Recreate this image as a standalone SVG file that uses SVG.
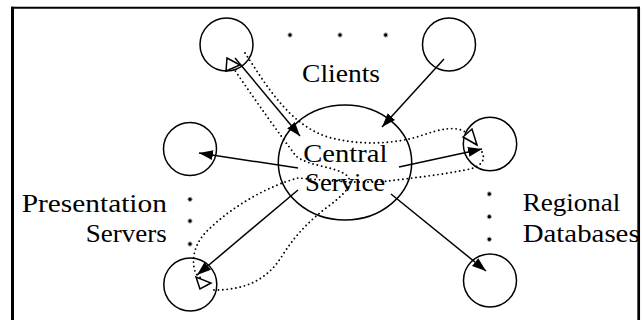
<svg xmlns="http://www.w3.org/2000/svg" width="641" height="320" viewBox="0 0 641 320">
<style>
.node{fill:none;stroke:#000;stroke-width:1.5}
.arrow{fill:none;stroke:#000;stroke-width:1.5;marker-end:url(#ah)}
.flow{fill:none;stroke:#000;stroke-width:1.9;stroke-dasharray:0 4.4;stroke-linecap:round}
.head{fill:#fff;stroke:#000;stroke-width:1.5;stroke-linejoin:miter}
.dot{fill:#000;stroke:#c0c0c0;stroke-width:1}
.lbl{font-family:'Liberation Serif',serif;font-size:26px;fill:#000}
.frame{stroke:#000;fill:none}
</style>
<defs>
<marker id="ah" markerUnits="userSpaceOnUse" markerWidth="15" markerHeight="11" refX="14" refY="5" orient="auto">
<path d="M0,0 L14,5 L0,10 z" fill="#000"/>
</marker>
</defs>
<rect width="641" height="320" fill="#fff"/>

<g id="clients">
<g id="client-left"><circle class="node" cx="226.5" cy="44.5" r="26.5"/></g>
<g id="client-right"><circle class="node" cx="449" cy="44.5" r="26.5"/></g>
<g id="client-dots"><circle class="dot" cx="290" cy="35" r="2.2"/><circle class="dot" cx="340" cy="35" r="2.2"/><circle class="dot" cx="385.7" cy="35" r="2.2"/></g>
<text class="lbl" transform="translate(302,81.5) scale(1.06,1)">Clients</text>
</g>

<g id="central">
<ellipse class="node" cx="345" cy="162.5" rx="66.7" ry="57.5"/>
<text class="lbl" transform="translate(303.3,161.7) scale(1.1,1)">Central</text>
<text class="lbl" transform="translate(305,190.7) scale(1.03,1)">Service</text>
</g>

<g id="presentation">
<g id="pres-top"><circle class="node" cx="190" cy="149" r="26.5"/></g>
<g id="pres-bottom"><circle class="node" cx="190.3" cy="284.5" r="26.5"/></g>
<g id="pres-dots"><circle class="dot" cx="190" cy="199.3" r="2.2"/><circle class="dot" cx="190" cy="221" r="2.2"/><circle class="dot" cx="190" cy="244" r="2.2"/></g>
<text class="lbl" transform="translate(21.7,211.7) scale(1.13,1)">Presentation</text>
<text class="lbl" transform="translate(85.7,241.7) scale(1.04,1)">Servers</text>
</g>

<g id="regional">
<g id="reg-top"><circle class="node" cx="490" cy="144" r="26.7"/></g>
<g id="reg-bottom"><circle class="node" cx="490" cy="280.5" r="26.5"/></g>
<g id="reg-dots"><circle class="dot" cx="489.3" cy="194" r="2.2"/><circle class="dot" cx="489.3" cy="216.7" r="2.2"/><circle class="dot" cx="489.3" cy="239.3" r="2.2"/></g>
<text class="lbl" transform="translate(522.7,210.5) scale(1.04,1)">Regional</text>
<text class="lbl" transform="translate(522.7,241.7) scale(1.11,1)">Databases</text>
</g>

<g id="connectors">
<line class="arrow" x1="235" y1="58" x2="300" y2="136"/>
<line class="arrow" x1="444" y1="59" x2="382" y2="127"/>
<line class="arrow" x1="298" y1="168" x2="199" y2="153"/>
<line class="arrow" x1="399" y1="167" x2="482" y2="149"/>
<line class="arrow" x1="298" y1="190" x2="197" y2="275"/>
<line class="arrow" x1="391" y1="194" x2="486" y2="271"/>

<path class="flow" d="M245,53 C268,88 290,125 328,137 C360,146 395,144 420,136 C440,129 456,125 467,133"/>
<polygon class="head" points="477,145 463,137 472,129"/>

<path class="flow" d="M482,152 C487,162 478,168 465,170 C440,175 412,178 388,181 C360,184 322,180 298,178 C268,186 232,206 206,232 C193,246 191,262 196,274 L203,280"/>
<polygon class="head" points="200,289 196,277 211,283"/>

<path class="flow" d="M214,290 C242,290 266,282 282,256 C296,234 310,220 330,205 C346,193 356,182 345,174 C332,166 308,166 296,156 C280,135 255,100 234,69"/>
<polygon class="head" points="227,58 226,71 240,65"/>
</g>

<g id="frame">
<line class="frame" x1="12.5" y1="320" x2="12.5" y2="6.7" stroke-width="3"/>
<line class="frame" x1="11" y1="7.7" x2="640" y2="7.7" stroke-width="2"/>
<line class="frame" x1="638.7" y1="6.7" x2="638.7" y2="320" stroke-width="2.7"/>
</g>
</svg>
